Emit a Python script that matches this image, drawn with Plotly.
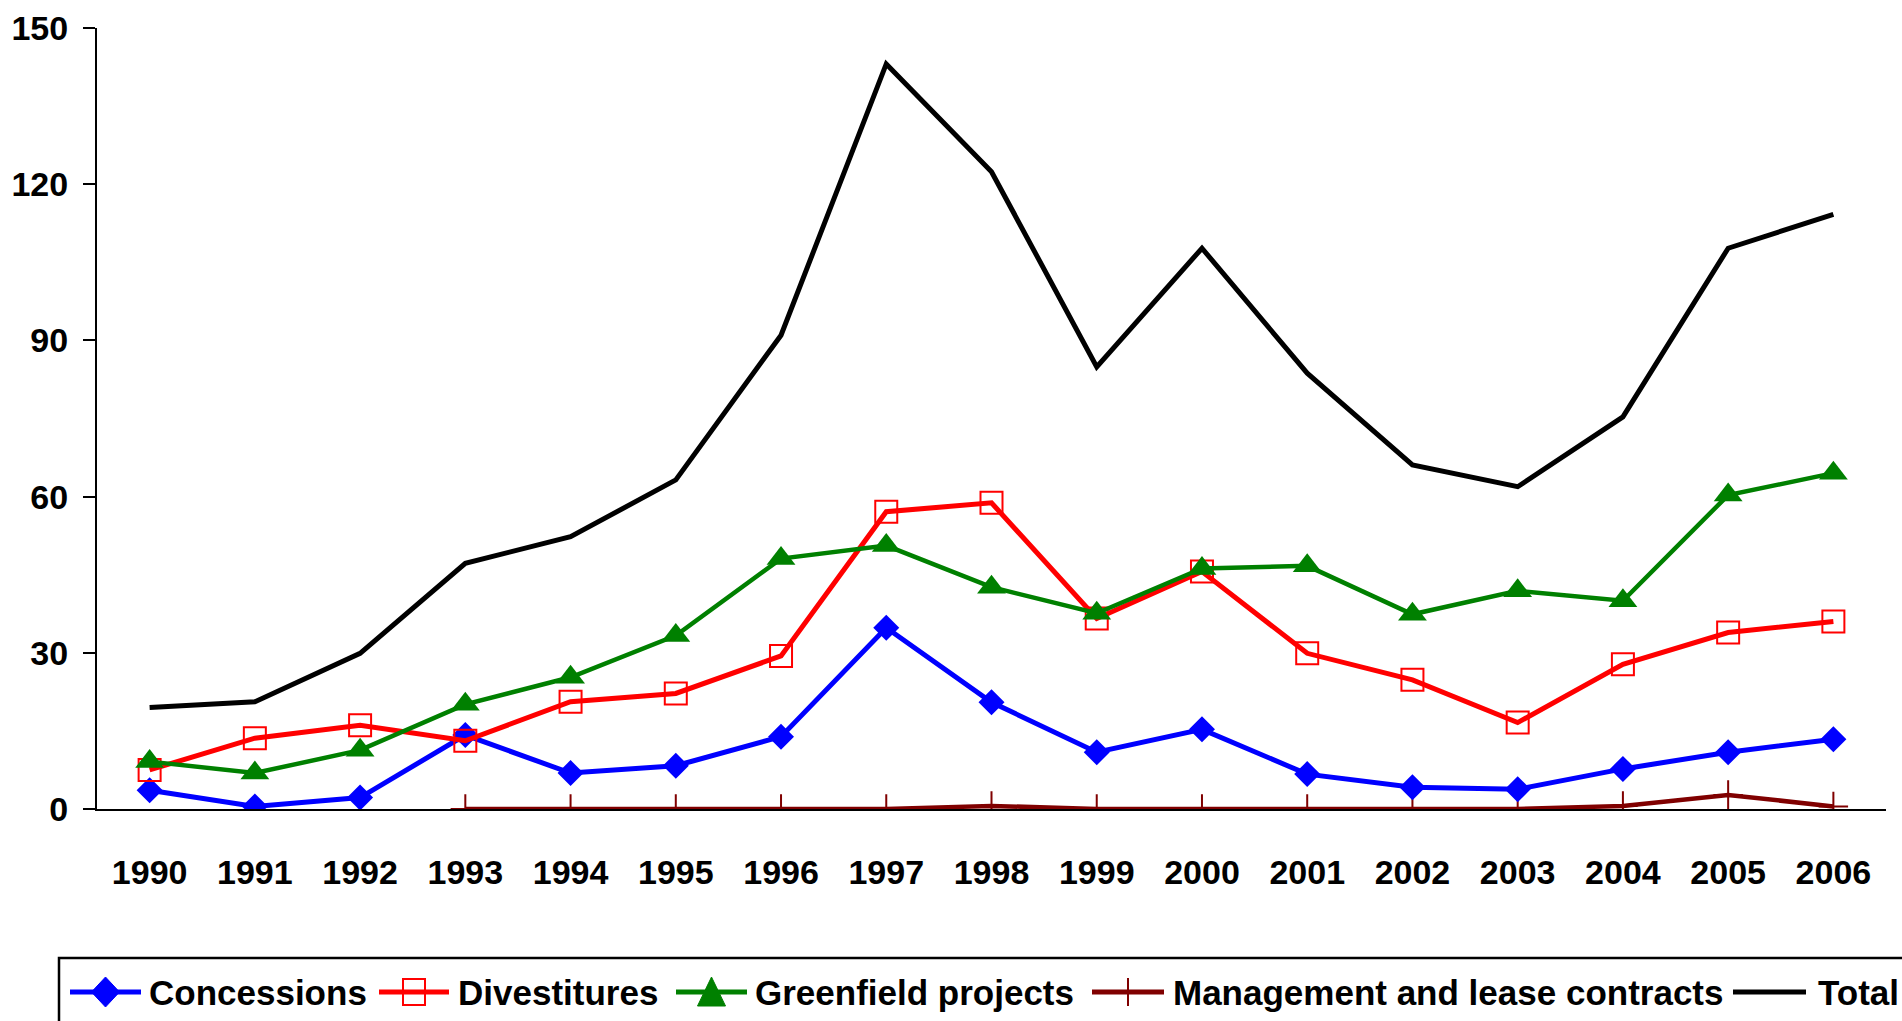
import plotly.graph_objects as go

years = [str(y) for y in range(1990, 2007)]
concessions = [3.6, 0.5, 2.2, 14.2, 6.9, 8.3, 13.9, 34.8, 20.5, 10.9, 15.3, 6.7, 4.2, 3.8, 7.7, 10.9, 13.4]
divestitures = [7.5, 13.6, 16.1, 13.1, 20.6, 22.2, 29.4, 57.1, 58.8, 36.6, 45.6, 29.9, 24.8, 16.6, 27.8, 33.9, 36.0]
greenfield = [9.1, 6.9, 11.3, 20.1, 25.3, 33.3, 48.1, 50.6, 42.6, 37.6, 46.2, 46.7, 37.4, 41.9, 40.0, 60.3, 64.5]
mgmt_years = years[3:]
management = [0.0, 0.0, 0.0, 0.0, 0.0, 0.6, 0.0, 0.0, 0.0, 0.0, 0.0, 0.6, 2.7, 0.5]
total = [19.5, 20.6, 29.9, 47.2, 52.3, 63.2, 91.0, 143.1, 122.4, 84.9, 107.7, 83.7, 66.1, 61.9, 75.3, 107.7, 114.2]
y_ticks = [0, 30, 60, 90, 120, 150]

names = ["Concessions", "Divestitures", "Greenfield projects", "Management and lease contracts", "Total"]
BLUE, RED, GREEN, MAROON, BLACK = "#0000FF", "#FF0000", "#008000", "#800000", "#000000"

W, H = 1902, 1021
ML, MR, MT, MB = 97, 16, 28, 212
PW, PH = W - ML - MR, H - MT - MB
FONT = "Liberation Sans, Arial, sans-serif"

fig = go.Figure()
fig.add_trace(go.Scatter(x=years, y=total, mode="lines", name=names[4],
                         line=dict(color=BLACK, width=5)))
fig.add_trace(go.Scatter(x=mgmt_years, y=management, mode="lines+markers", name=names[3],
                         line=dict(color=MAROON, width=4.5),
                         marker=dict(symbol="cross-thin", size=21, color=MAROON,
                                     line=dict(color=MAROON, width=2))))
fig.add_trace(go.Scatter(x=years, y=concessions, mode="lines+markers", name=names[0],
                         line=dict(color=BLUE, width=5),
                         marker=dict(symbol="diamond", size=20, color=BLUE)))
fig.add_trace(go.Scatter(x=years, y=divestitures, mode="lines+markers", name=names[1],
                         line=dict(color=RED, width=5),
                         marker=dict(symbol="square-open", size=22, color=RED,
                                     line=dict(color=RED, width=2))))
fig.add_trace(go.Scatter(x=years, y=greenfield, mode="lines+markers", name=names[2],
                         line=dict(color=GREEN, width=4.5),
                         marker=dict(symbol="triangle-up", size=25, color=GREEN)))


def px(xp):
    return (xp - ML) / PW


def py(yp):
    return (H - MB - yp) / PH


shapes = []
annotations = []
# legend box (extends beyond the page edge like the original)
shapes.append(dict(type="rect", xref="paper", yref="paper", x0=px(59), x1=px(1915),
                   y0=py(958), y1=py(1040), line=dict(color=BLACK, width=2.5),
                   fillcolor="rgba(0,0,0,0)", layer="above"))

cy = 992
legend_items = [
    (names[0], BLUE, 70, 141, 147, "diamond"),
    (names[1], RED, 379, 449, 456, "square"),
    (names[2], GREEN, 676, 747, 753, "triangle"),
    (names[3], MAROON, 1092, 1164, 1171, "cross"),
    (names[4], BLACK, 1733, 1806, 1816, None),
]
for name, col, lx0, lx1, tx, sym in legend_items:
    shapes.append(dict(type="line", xref="paper", yref="paper", x0=px(lx0), x1=px(lx1),
                       y0=py(cy), y1=py(cy), line=dict(color=col, width=5)))
    cx = (lx0 + lx1) / 2
    if sym == "diamond":
        p = f"M {px(cx)} {py(cy-15)} L {px(cx+14)} {py(cy)} L {px(cx)} {py(cy+15)} L {px(cx-14)} {py(cy)} Z"
        shapes.append(dict(type="path", xref="paper", yref="paper", path=p,
                           fillcolor=col, line=dict(color=col, width=1)))
    elif sym == "square":
        shapes.append(dict(type="rect", xref="paper", yref="paper", x0=px(cx-11), x1=px(cx+11),
                           y0=py(cy-13), y1=py(cy+13), fillcolor="rgba(0,0,0,0)",
                           line=dict(color=col, width=2)))
    elif sym == "triangle":
        p = f"M {px(cx)} {py(cy-15)} L {px(cx+14)} {py(cy+14)} L {px(cx-14)} {py(cy+14)} Z"
        shapes.append(dict(type="path", xref="paper", yref="paper", path=p,
                           fillcolor=col, line=dict(color=col, width=1)))
    elif sym == "cross":
        shapes.append(dict(type="line", xref="paper", yref="paper", x0=px(cx), x1=px(cx),
                           y0=py(cy-14), y1=py(cy+14), line=dict(color=col, width=2)))
    annotations.append(dict(text=name, xref="paper", yref="paper", x=px(tx), y=py(cy),
                            xanchor="left", yanchor="middle", showarrow=False,
                            font=dict(family=FONT, size=35, color=BLACK, weight="bold")))

fig.update_layout(
    width=W, height=H,
    margin=dict(l=ML, r=MR, t=MT, b=MB, pad=0, autoexpand=False),
    paper_bgcolor="white", plot_bgcolor="white",
    showlegend=False,
    font=dict(family=FONT, color=BLACK, weight="bold"),
    shapes=shapes, annotations=annotations,
    xaxis=dict(type="category", range=[-0.5, 16.5], showline=True, linecolor=BLACK, linewidth=2,
               showgrid=False, zeroline=False, ticks="", ticklabelstandoff=32, automargin=False,
               tickfont=dict(family=FONT, size=34, color=BLACK, weight="bold")),
    yaxis=dict(range=[0, 150], tickvals=y_ticks, showline=True, linecolor=BLACK, linewidth=2,
               showgrid=False, zeroline=False, ticks="outside", ticklen=12, tickwidth=2,
               tickcolor=BLACK, ticklabelstandoff=8, automargin=False,
               tickfont=dict(family=FONT, size=34, color=BLACK, weight="bold")),
)

fig.write_html("out.html", config={"displayModeBar": False},
               post_script="document.body.style.margin='0';document.body.style.overflow='hidden';")
